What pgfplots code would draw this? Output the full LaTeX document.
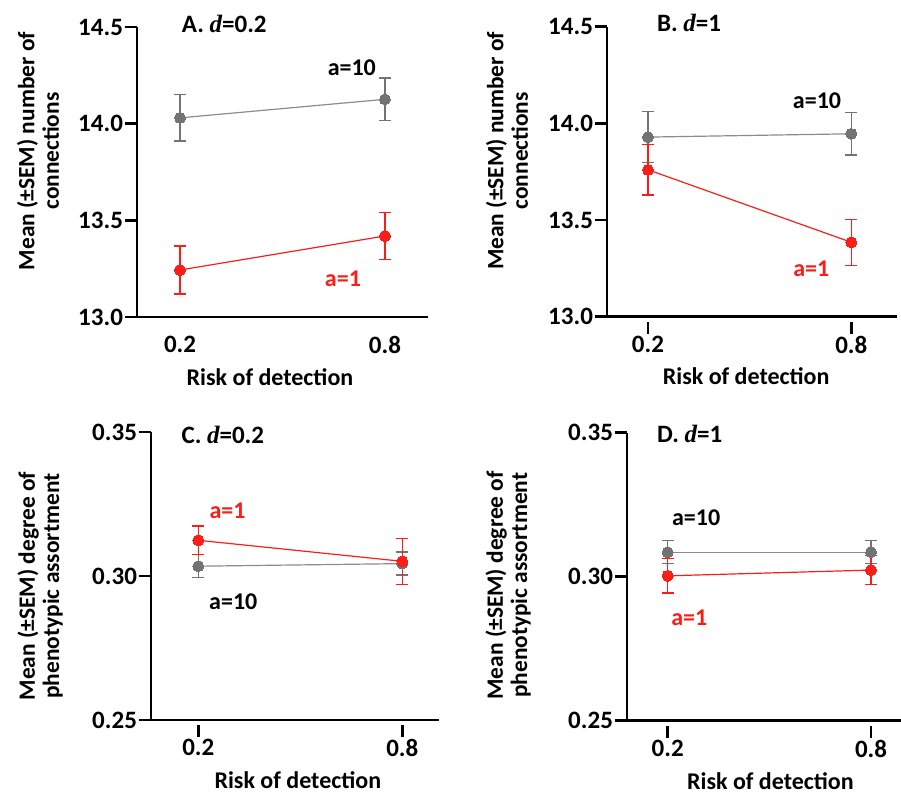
\documentclass[border=0pt]{standalone}
\usepackage{fontspec}
\setmainfont{Carlito}
\newfontfamily\serifd{Liberation Serif}
\usepackage{pgfplots}
\pgfplotsset{compat=1.18}
\definecolor{myred}{RGB}{250,30,25}
\definecolor{mygray}{RGB}{115,115,115}
\definecolor{mygrayline}{RGB}{140,140,140}
\newcommand{\dd}{{\serifd\bfseries\itshape d}}
\newcommand{\tickfont}{\bfseries\fontsize{12.5}{14}\selectfont}
\newcommand{\labfont}{\bfseries\fontsize{12}{12.3}\selectfont}
\newcommand{\ylabfont}{\bfseries\fontsize{11.7}{12.2}\selectfont}
\tikzset{ann/.style={font=\bfseries\fontsize{12}{13}\selectfont},
  ttl/.style={font=\bfseries\fontsize{12.5}{13}\selectfont, anchor=west}}
\pgfplotsset{
  panel/.style={
    scale only axis,
    axis lines=left,
    axis line style={-, line width=1.35pt},
    tick style={line width=1.35pt, black},
    major tick length=6pt,
    tick align=outside,
    xtick={0.2,0.8},
    xticklabels={0.2,0.8},
    every major x tick/.append style={yshift=-2.5pt},
    /pgf/number format/assume math mode=true,
    xticklabel style={font=\tickfont},
    yticklabel style={font=\tickfont, xshift=2.5pt},
    clip=false,
  },
  connections/.style={ymin=13, ymax=14.5, ytick={13,13.5,14,14.5},
    yticklabel style={/pgf/number format/.cd, fixed, fixed zerofill, precision=1},
    ylabel={Mean (±SEM) number of\\connections}},
  assort/.style={ymin=0.25, ymax=0.35, ytick={0.25,0.30,0.35},
    yticklabel style={/pgf/number format/.cd, fixed, fixed zerofill, precision=2},
    ylabel={Mean (±SEM) degree of\\phenotypic assortment}},
  gr/.style={color=mygrayline, line width=0.6pt, mark=*, mark size=2.75pt,
    mark options={fill=mygray, draw=mygray, line width=0pt},
    error bars/.cd, y dir=both, y explicit,
    error bar style={line width=0.7pt, mygray},
    error mark options={rotate=90, mark size=3pt, line width=0.7pt, mygray}},
  rd/.style={color=myred, line width=0.6pt, mark=*, mark size=2.75pt,
    mark options={fill=myred, draw=myred, line width=0pt},
    error bars/.cd, y dir=both, y explicit,
    error bar style={line width=0.7pt, myred},
    error mark options={rotate=90, mark size=3pt, line width=0.7pt, myred}},
}
\begin{document}
\begin{tikzpicture}
\useasboundingbox (0,0) rectangle (450.5pt,396.5pt);
\clip (0,0) rectangle (450.5pt,396.5pt);
% Panel A
\begin{axis}[panel, connections, at={(68.5pt,238pt)}, anchor=south west,
  width=145.5pt, height=145pt, xmin=0.074, xmax=0.926,
  every major x tick/.append style={draw=none},
  ylabel style={at={(rel axis cs:-0.34,0.572)}, anchor=center, align=center, font=\ylabfont},
  xlabel={Risk of detection},
  xlabel style={at={(rel axis cs:0.457,0)}, anchor=center, yshift=-30pt, font=\labfont}]
\addplot[gr] coordinates {(0.2,14.03) +- (0,0.12) (0.8,14.126) +- (0,0.11)};
\addplot[rd] coordinates {(0.2,13.243) +- (0,0.124) (0.8,13.419) +- (0,0.122)};
\node[ann, black] at (axis cs:0.703,14.29) {a=10};
\node[ann, myred] at (axis cs:0.677,13.2) {a=1};
\node[ttl] at (axis cs:0.185,14.516) {A. \dd=0.2};
\end{axis}
% Panel B
\begin{axis}[panel, connections, at={(303.5pt,238.15pt)}, anchor=south west,
  width=145pt, height=145pt, xmin=0.079, xmax=0.935,
  ylabel style={at={(rel axis cs:-0.345,0.572)}, anchor=center, align=center, font=\ylabfont},
  xlabel={Risk of detection},
  xlabel style={at={(rel axis cs:0.48,0)}, anchor=center, yshift=-29.7pt, font=\labfont}]
\addplot[gr] coordinates {(0.2,13.929) +- (0,0.132) (0.8,13.946) +- (0,0.11)};
\addplot[rd] coordinates {(0.2,13.76) +- (0,0.131) (0.8,13.385) +- (0,0.119)};
\node[ann, black] at (axis cs:0.699,14.118) {a=10};
\node[ann, myred] at (axis cs:0.682,13.25) {a=1};
\node[ttl] at (axis cs:0.206,14.517) {B. \dd=1};
\end{axis}
% Panel C
\begin{axis}[panel, assort, at={(75.5pt,36.5pt)}, anchor=south west,
  width=144pt, height=144pt, xmin=0.061, xmax=0.908,
  ylabel style={at={(rel axis cs:-0.385,0.465)}, anchor=center, align=center, font=\ylabfont},
  xlabel={Risk of detection},
  xlabel style={at={(rel axis cs:0.51,0)}, anchor=center, yshift=-30pt, font=\labfont}]
\addplot[gr] coordinates {(0.2,0.3034) +- (0,0.004) (0.8,0.3043) +- (0,0.004)};
\addplot[rd] coordinates {(0.2,0.3124) +- (0,0.0049) (0.8,0.3051) +- (0,0.008)};
\node[ann, myred] at (axis cs:0.286,0.3228) {a=1};
\node[ann, black] at (axis cs:0.303,0.291) {a=10};
\node[ttl] at (axis cs:0.13,0.3489) {C. \dd=0.2};
\end{axis}
% Panel D
\begin{axis}[panel, assort, at={(313.5pt,36.15pt)}, anchor=south west,
  width=144.9pt, height=144pt, xmin=0.08, xmax=0.935,
  ylabel style={at={(rel axis cs:-0.41,0.47)}, anchor=center, align=center, font=\ylabfont},
  xlabel={Risk of detection},
  xlabel style={at={(rel axis cs:0.495,0)}, anchor=center, yshift=-30pt, font=\labfont}]
\addplot[gr] coordinates {(0.2,0.3085) +- (0,0.004) (0.8,0.3085) +- (0,0.004)};
\addplot[rd] coordinates {(0.2,0.3003) +- (0,0.006) (0.8,0.3023) +- (0,0.005)};
\node[ann, black] at (axis cs:0.284,0.3204) {a=10};
\node[ann, myred] at (axis cs:0.264,0.2858) {a=1};
\node[ttl] at (axis cs:0.148,0.3494) {D. \dd=1};
\end{axis}
\end{tikzpicture}
\end{document}
